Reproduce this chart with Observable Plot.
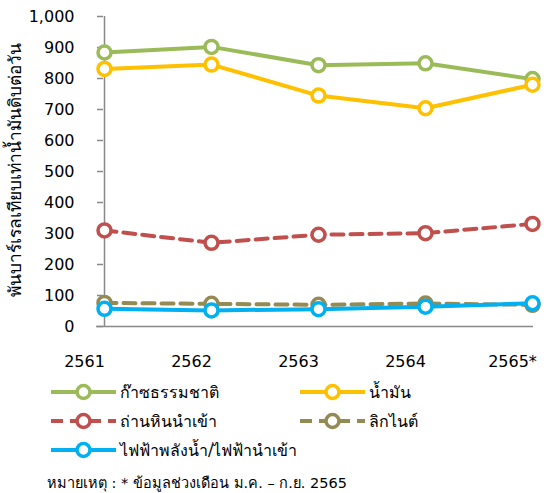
<!DOCTYPE html>
<html>
<head>
<meta charset="utf-8">
<script src="https://cdn.jsdelivr.net/npm/d3@7"></script>
<script src="https://cdn.jsdelivr.net/npm/@observablehq/plot@0.6"></script>
<style>
  body { margin: 0; background: #fff; font-family: "DejaVu Sans", sans-serif; }
  #wrap { position: relative; width: 558px; height: 493px; overflow: hidden; }
  .item { position: absolute; display: flex; align-items: center; font-size: 16px; color: #000; white-space: nowrap; }
  .item svg { margin-right: 3px; }
  #note { position: absolute; left: 47px; top: 471px; font-size: 14.5px; color: #000; white-space: nowrap; }
</style>
</head>
<body>
<div id="wrap"></div>
<script>
const years = ["2561", "2562", "2563", "2564", "2565*"];
const gas = [884, 902, 843, 849, 798];
const oil = [831, 845, 745, 704, 780];
const coal = [310, 270, 296, 301, 331];
const lignite = [76, 73, 70, 74, 70];
const hydro = [57, 52, 56, 64, 75];
const yTicks = [0, 100, 200, 300, 400, 500, 600, 700, 800, 900, 1000];
const yTitle = "พันบาร์เรลเทียบเท่าน้ำมันดิบต่อวัน";
const note = "หมายเหตุ : * ข้อมูลช่วงเดือน ม.ค. – ก.ย. 2565";

const series = [
  {name: "ก๊าซธรรมชาติ", values: gas, color: "#9BBB59", dash: null},
  {name: "น้ำมัน", values: oil, color: "#FFC000", dash: null},
  {name: "ถ่านหินนำเข้า", values: coal, color: "#C0504D", dash: "12,7"},
  {name: "ลิกไนต์", values: lignite, color: "#948A54", dash: "12,7"},
  {name: "ไฟฟ้าพลังน้ำ/ไฟฟ้านำเข้า", values: hydro, color: "#00B0F0", dash: null}
];

const marks = [
  Plot.ruleY([0], {stroke: "#898989", strokeWidth: 1.5, insetLeft: -7}),
  Plot.ruleX([years[0]], {y1: 0, y2: 1000, stroke: "#898989", strokeWidth: 1.5}),
  Plot.axisY({ticks: yTicks, tickFormat: d => d3.format(",")(d), tickSize: 6, tickPadding: 23, stroke: "#898989", strokeWidth: 1.5, label: null, fontSize: 16}),
  Plot.axisX({tickSize: 0, tickPadding: 29, label: null, fontSize: 16, dx: -20})
];
for (const s of series) {
  const data = years.map((y, i) => ({year: y, value: s.values[i]}));
  marks.push(Plot.line(data, {x: "year", y: "value", stroke: s.color, strokeWidth: 4, strokeDasharray: s.dash}));
  marks.push(Plot.dot(data, {x: "year", y: "value", r: 6.5, fill: "white", stroke: s.color, strokeWidth: 3.5}));
}

const chart = Plot.plot({
  width: 558,
  height: 372,
  marginTop: 16,
  marginBottom: 46,
  marginLeft: 103,
  marginRight: 25,
  style: {fontFamily: "DejaVu Sans, sans-serif", fontSize: "16px", color: "#000", background: "#fff"},
  x: {type: "point", domain: years, padding: 0},
  y: {domain: [0, 1000]},
  marks
});

const wrap = document.getElementById("wrap");
wrap.appendChild(chart);

// y axis title
const svg = d3.select(chart);
svg.append("text")
  .attr("transform", "translate(16,170) rotate(-90)")
  .attr("text-anchor", "middle")
  .attr("dominant-baseline", "middle")
  .attr("font-size", 17.3)
  .attr("fill", "#000")
  .text(yTitle);

// legend
const pos = [[50, 392], [299, 392], [50, 421], [299, 421], [50, 450]];
series.forEach((s, i) => {
  const div = document.createElement("div");
  div.className = "item";
  div.style.left = pos[i][0] + "px";
  div.style.top = (pos[i][1] - 12) + "px";
  div.style.height = "24px";
  const sw = d3.create("svg").attr("width", 67).attr("height", 24);
  sw.append("line").attr("x1", 1).attr("x2", 66).attr("y1", 12).attr("y2", 12)
    .attr("stroke", s.color).attr("stroke-width", 4)
    .attr("stroke-dasharray", s.dash ? "12,7" : null);
  sw.append("circle").attr("cx", 33.5).attr("cy", 12).attr("r", 6.5)
    .attr("fill", "white").attr("stroke", s.color).attr("stroke-width", 3.5);
  div.appendChild(sw.node());
  const t = document.createElement("span");
  t.textContent = s.name;
  div.appendChild(t);
  wrap.appendChild(div);
});
const n = document.createElement("div");
n.id = "note";
n.textContent = note;
wrap.appendChild(n);
</script>
</body>
</html>
